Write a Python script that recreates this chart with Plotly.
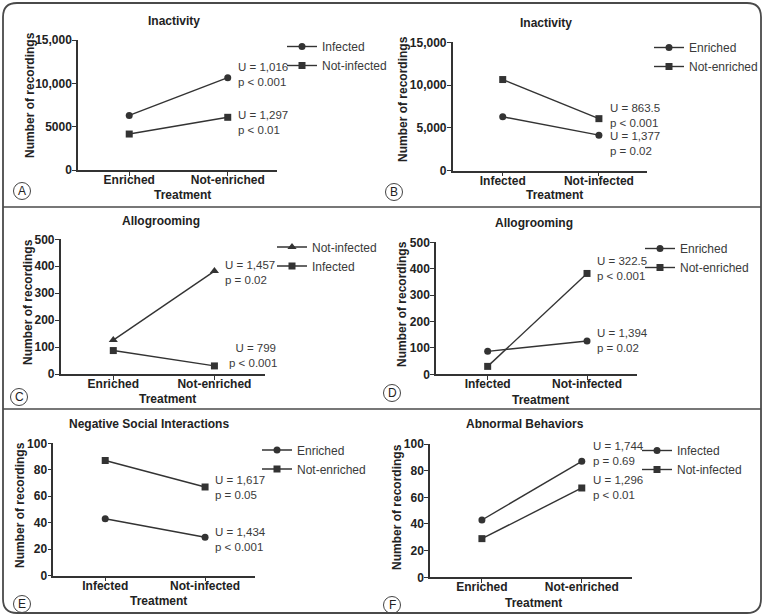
import plotly.graph_objects as go

W, H = 764, 616
FONT = "Liberation Sans, Arial, sans-serif"

# ---------------- data ----------------
treat_enrich = ["Enriched", "Not-enriched"]
treat_infect = ["Infected", "Not-infected"]

inact_infected = [6300, 10650]      # by enrichment
inact_notinfected = [4150, 6080]
inact_enriched = [6300, 4150]       # by infection
inact_notenriched = [10650, 6080]

allo_notinfected = [126, 382]       # by enrichment
allo_infected = [87, 30]
allo_enriched = [87, 126]           # by infection
allo_notenriched = [30, 382]

neg_enriched = [43, 29]             # by infection
neg_notenriched = [87, 67]

abn_infected = [43, 87]             # by enrichment
abn_notinfected = [29, 67]

ticks_inact_vals = [0, 5000, 10000, 15000]
ticks_inact_A = ["0", "5000", "10,000", "15,000"]
ticks_inact_B = ["0", "5,000", "10,000", "15,000"]
ticks_allo = [0, 100, 200, 300, 400, 500]
ticks_pct = [0, 20, 40, 60, 80, 100]

# ---------------- helpers ----------------
def px(x):
    return x / W

def py(y):
    return 1 - y / H

LINE = "#333333"
TXT = "#3a3a3a"

# panel geometry: (x0, x1, ytop, ybottom) in pixels
panels = [
    dict(key="A", dom=(78, 277, 40, 170), yr=[0, 15000], tv=ticks_inact_vals, tt=ticks_inact_A,
         cats=treat_enrich,
         series=[("Infected", inact_infected, "circle"), ("Not-infected", inact_notinfected, "square")],
         title="Inactivity", title_xy=(174, 21), ytitle_xy=(30, 95), xtitle_xy=(182, 195),
         letter_xy=(22, 191), leg=(302, 56),
         stats=[(236, 74.8, "U = 1,016<br>p < 0.001"), (236, 122.8, "U = 1,297<br>p < 0.01")]),
    dict(key="B", dom=(452.7, 647, 42.3, 170.7), yr=[0, 15000], tv=ticks_inact_vals, tt=ticks_inact_B,
         cats=treat_infect,
         series=[("Enriched", inact_enriched, "circle"), ("Not-enriched", inact_notenriched, "square")],
         title="Inactivity", title_xy=(546, 23), ytitle_xy=(403, 99), xtitle_xy=(554, 195),
         letter_xy=(394, 192), leg=(669, 57),
         stats=[(607.7, 115.3, "U = 863.5<br>p < 0.001"), (607.7, 143.6, "U = 1,377<br>p = 0.02")]),
    dict(key="C", dom=(60.7, 265, 239.3, 374), yr=[0, 500], tv=ticks_allo, tt=[str(v) for v in ticks_allo],
         cats=treat_enrich,
         series=[("Not-infected", allo_notinfected, "triangle-up"), ("Infected", allo_infected, "square")],
         title="Allogrooming", title_xy=(161, 221), ytitle_xy=(28, 302), xtitle_xy=(167, 399),
         letter_xy=(19, 397), leg=(292, 256.5),
         stats=[(223.3, 272.2, "U = 1,457<br>p = 0.02"), (226.7, 355.5, "  U = 799<br>p < 0.001")]),
    dict(key="D", dom=(436, 636.7, 242.3, 374.3), yr=[0, 500], tv=ticks_allo, tt=[str(v) for v in ticks_allo],
         cats=treat_infect,
         series=[("Enriched", allo_enriched, "circle"), ("Not-enriched", allo_notenriched, "square")],
         title="Allogrooming", title_xy=(534, 223), ytitle_xy=(402, 304), xtitle_xy=(540, 400),
         letter_xy=(392, 393), leg=(660, 258),
         stats=[(595, 268.3, "U = 322.5<br>p < 0.001"), (595, 340.5, "U = 1,394<br>p = 0.02")]),
    dict(key="E", dom=(53.3, 255, 443.3, 575.7), yr=[0, 100], tv=ticks_pct, tt=[str(v) for v in ticks_pct],
         cats=treat_infect,
         series=[("Enriched", neg_enriched, "circle"), ("Not-enriched", neg_notenriched, "square")],
         title="Negative Social Interactions", title_xy=(149, 424), ytitle_xy=(20, 505), xtitle_xy=(158, 601),
         letter_xy=(22, 604), leg=(277, 459.5),
         stats=[(213.3, 487.2, "U = 1,617<br>p = 0.05"), (213.3, 539.6, "U = 1,434<br>p < 0.001")]),
    dict(key="F", dom=(430, 631.7, 444, 577.3), yr=[0, 100], tv=ticks_pct, tt=[str(v) for v in ticks_pct],
         cats=treat_enrich,
         series=[("Infected", abn_infected, "circle"), ("Not-infected", abn_notinfected, "square")],
         title="Abnormal Behaviors", title_xy=(525, 424), ytitle_xy=(397, 507), xtitle_xy=(533, 603),
         letter_xy=(392, 605), leg=(657, 460),
         stats=[(590.7, 453.8, "U = 1,744<br>p = 0.69"), (590.7, 487.2, "U = 1,296<br>p < 0.01")]),
]

fig = go.Figure()
annotations = []
shapes = []
layout = {}

for i, p in enumerate(panels):
    n = i + 1
    xa = "xaxis" if n == 1 else f"xaxis{n}"
    ya = "yaxis" if n == 1 else f"yaxis{n}"
    xref = "x" if n == 1 else f"x{n}"
    yref = "y" if n == 1 else f"y{n}"
    legname = "legend" if n == 1 else f"legend{n}"
    x0, x1, yt, yb = p["dom"]

    for name, vals, sym in p["series"]:
        fig.add_trace(go.Scatter(
            x=p["cats"], y=vals, name=name, mode="lines+markers",
            xaxis=xref, yaxis=yref, legend=legname,
            line=dict(color=LINE, width=1.4),
            marker=dict(symbol=sym, size=8 if sym == "triangle-up" else 7, color=LINE),
            cliponaxis=False,
        ))

    layout[xa] = dict(
        domain=[px(x0), px(x1)], anchor=yref, type="category",
        categoryorder="array", categoryarray=p["cats"], range=[-0.52, 1.5],
        ticklabelstandoff=-6,
        showline=True, linecolor=LINE, linewidth=1.5, showgrid=False, zeroline=False,
        ticks="outside", ticklen=4, tickwidth=1.3, tickcolor=LINE, automargin=False,
        tickfont=dict(family=FONT, size=12, color="#222", weight="bold"), fixedrange=True,
    )
    layout[ya] = dict(
        domain=[py(yb), py(yt)], anchor=xref, range=p["yr"],
        tickvals=p["tv"], ticktext=p["tt"], ticklabelstandoff=-2,
        showline=True, linecolor=LINE, linewidth=1.5, showgrid=False, zeroline=False,
        ticks="outside", ticklen=4, tickwidth=1.3, tickcolor=LINE, automargin=False,
        tickfont=dict(family=FONT, size=12, color="#222", weight="bold"), fixedrange=True,
    )
    lx, ly = p["leg"]
    layout[legname] = dict(
        x=px(lx - 20), y=py(ly), xanchor="left", yanchor="middle",
        bgcolor="rgba(0,0,0,0)", borderwidth=0, traceorder="normal",
        font=dict(family=FONT, size=12, color=TXT), itemclick=False, itemdoubleclick=False,
    )

    # titles
    tx, ty = p["title_xy"]
    annotations.append(dict(x=px(tx), y=py(ty), xref="paper", yref="paper", text=p["title"],
                            showarrow=False, xanchor="center", yanchor="middle",
                            font=dict(family=FONT, size=12, color="#222", weight="bold")))
    yx, yy = p["ytitle_xy"]
    annotations.append(dict(x=px(yx), y=py(yy), xref="paper", yref="paper", text="Number of recordings",
                            showarrow=False, textangle=-90, xanchor="center", yanchor="middle",
                            font=dict(family=FONT, size=12, color="#222", weight="bold")))
    xx, xy = p["xtitle_xy"]
    annotations.append(dict(x=px(xx), y=py(xy), xref="paper", yref="paper", text="Treatment",
                            showarrow=False, xanchor="center", yanchor="middle",
                            font=dict(family=FONT, size=12, color="#222", weight="bold")))
    for sx, sy, st in p["stats"]:
        annotations.append(dict(x=px(sx), y=py(sy), xref="paper", yref="paper", text=st,
                                showarrow=False, xanchor="left", yanchor="middle", align="left",
                                font=dict(family=FONT, size=11.5, color=TXT)))
    # circled letter
    cx, cy = p["letter_xy"]
    r = 8.5
    shapes.append(dict(type="circle", xref="paper", yref="paper",
                       x0=px(cx - r), x1=px(cx + r), y0=py(cy + r), y1=py(cy - r),
                       line=dict(color="#444", width=1)))
    annotations.append(dict(x=px(cx), y=py(cy), xref="paper", yref="paper", text=p["key"],
                            showarrow=False, xanchor="center", yanchor="middle",
                            font=dict(family=FONT, size=12, color="#222")))

# outer rounded frame
fx0, fy0, fx1, fy1, rad = 3, 3, 761, 613, 14
path = (f"M {px(fx0 + rad)} {py(fy0)} L {px(fx1 - rad)} {py(fy0)} "
        f"Q {px(fx1)} {py(fy0)} {px(fx1)} {py(fy0 + rad)} "
        f"L {px(fx1)} {py(fy1 - rad)} Q {px(fx1)} {py(fy1)} {px(fx1 - rad)} {py(fy1)} "
        f"L {px(fx0 + rad)} {py(fy1)} Q {px(fx0)} {py(fy1)} {px(fx0)} {py(fy1 - rad)} "
        f"L {px(fx0)} {py(fy0 + rad)} Q {px(fx0)} {py(fy0)} {px(fx0 + rad)} {py(fy0)} Z")
shapes.append(dict(type="path", xref="paper", yref="paper", path=path,
                   line=dict(color="#4a4a4a", width=1.8)))
for sy in (207, 409):
    shapes.append(dict(type="line", xref="paper", yref="paper",
                       x0=px(fx0), x1=px(fx1), y0=py(sy), y1=py(sy),
                       line=dict(color="#4a4a4a", width=1.5)))

fig.update_layout(
    template="none",
    width=W, height=H, autosize=False,
    margin=dict(l=0, r=0, t=0, b=0, pad=0, autoexpand=False),
    paper_bgcolor="white", plot_bgcolor="white",
    showlegend=True,
    annotations=annotations, shapes=shapes,
    font=dict(family=FONT, size=12, color=TXT),
    **layout,
)

fig.write_html("out.html")
